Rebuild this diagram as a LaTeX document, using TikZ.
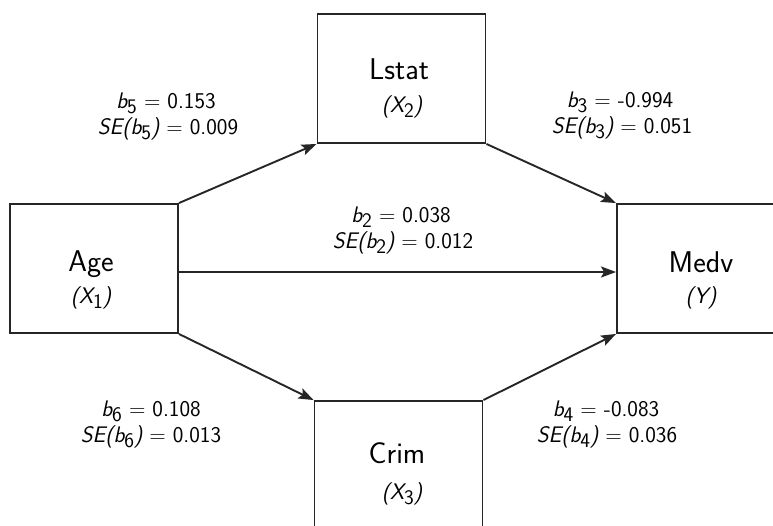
\documentclass[tikz,border=0pt]{standalone}
\usepackage{graphicx}
\usetikzlibrary{arrows.meta,calc}
% upright, lowered subscript digit in the current text font
\newcommand\sbs[1]{\raisebox{-0.55ex}{\scalebox{0.92}{\upshape #1}}}
\newcommand\bcoef[2]{{\itshape b}\sbs{#1} = #2}
\newcommand\secoef[2]{{\itshape SE(b}\sbs{#1}{\itshape )} = #2}
\begin{document}
\begin{tikzpicture}[x=1pt,y=-1pt,
  box/.style={draw=black!85, line width=1.9pt, minimum width=168pt,
    minimum height=129pt, inner sep=0pt, anchor=center},
  effect/.style={draw=black!85, line width=1.9pt,
    -{Stealth[length=15pt,width=11pt,inset=3pt]}},
  varname/.style={font=\fontsize{30}{34}\selectfont\sffamily, anchor=base, inner sep=0pt},
  varsym/.style={font=\fontsize{22.5}{26}\selectfont\sffamily\itshape, anchor=base, inner sep=0pt},
  coef/.style={font=\fontsize{22.5}{26}\selectfont\sffamily, anchor=base, inner sep=0pt}]
\useasboundingbox (0,0) rectangle (773,525);
\clip (0,0) rectangle (773,525);

% variable boxes
\node[box] (age)   at (94,268.5)  {};
\node[box] (lstat) at (401.5,78.5) {};
\node[box] (medv)  at (701,268.5) {};
\node[box] (crim)  at (398.5,465.5) {};

% box labels
\node[varname] (agename)   at (91,271)  {Age};
\node[varsym]  (agesym)    at (91,303)  {(X\sbs{1})};
\node[varname] (lstatname) at (399,79)  {Lstat};
\node[varsym]  (lstatsym)  at (402,112) {(X\sbs{2})};
\node[varname] (medvname)  at (701,272) {Medv};
\node[varsym]  (medvsym)   at (701,303) {(Y)};
\node[varname] (crimname)  at (397,463) {Crim};
\node[varsym]  (crimsym)   at (402,499) {(X\sbs{3})};

% paths
\draw[effect] (age.north east) -- (lstat.south west);
\draw[effect] (lstat.south east) -- (medv.north west);
\draw[effect] ($(age.east)+(0,3.5)$) -- ($(medv.west)+(0,3.5)$);
\draw[effect] (age.south east) -- (crim.north west);
\draw[effect] (crim.north east) -- (medv.south west);

% path coefficients
\node[coef] (b5)  at (166,108) {\bcoef{5}{0.153}};
\node[coef] (se5) at (168,134) {\secoef{5}{0.009}};
\node[coef] (b3)  at (620,107) {\bcoef{3}{-0.994}};
\node[coef] (se3) at (622,133) {\secoef{3}{0.051}};
\node[coef] (b2)  at (401,222) {\bcoef{2}{0.038}};
\node[coef] (se2) at (403,248) {\secoef{2}{0.012}};
\node[coef] (b6)  at (151,416) {\bcoef{6}{0.108}};
\node[coef] (se6) at (151,442) {\secoef{6}{0.013}};
\node[coef] (b4)  at (606,416) {\bcoef{4}{-0.083}};
\node[coef] (se4) at (607,442) {\secoef{4}{0.036}};
\end{tikzpicture}
\end{document}
